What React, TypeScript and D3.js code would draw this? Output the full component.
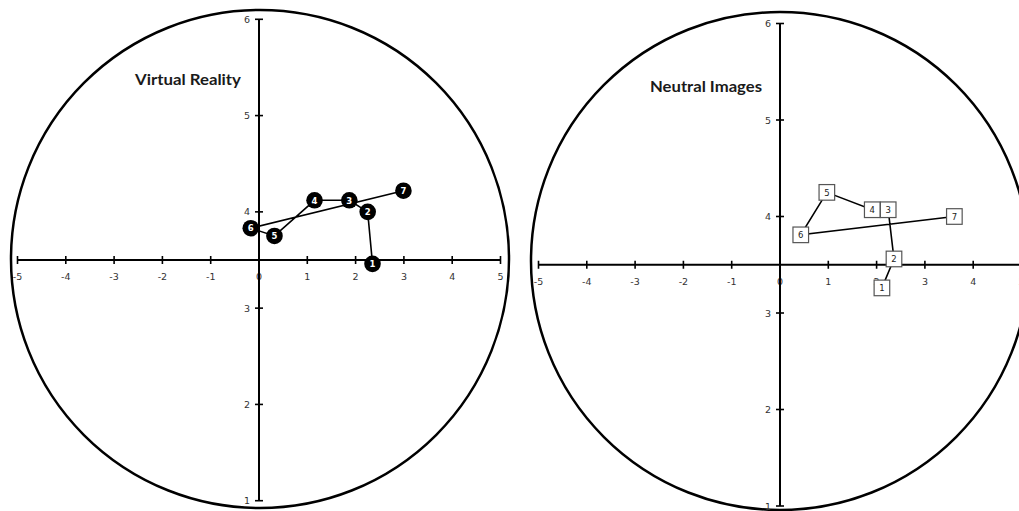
import React from "react";
import * as d3 from "d3";

const pointLabels = ["1", "2", "3", "4", "5", "6", "7"];
const vrX = [2.35, 2.25, 1.87, 1.15, 0.32, -0.17, 2.99];
const vrY = [3.46, 4.0, 4.12, 4.12, 3.75, 3.83, 4.22];
const niX = [2.11, 2.36, 2.24, 1.91, 0.97, 0.43, 3.61];
const niY = [3.26, 3.56, 4.07, 4.07, 4.25, 3.81, 4.0];
const xTicks = [-5, -4, -3, -2, -1, 0, 1, 2, 3, 4, 5];
const yTicks = [1, 2, 3, 4, 5, 6];
const titles = ["Virtual Reality", "Neutral Images"];

type PanelProps = {
  xs: number[];
  ys: number[];
  title: string;
  titleWidth: number;
  xRange: [number, number];
  yRange: [number, number];
  circle: [number, number, number];
  titlePos: [number, number];
  marker: "circle" | "square";
};

const tickFont = "'DejaVu Sans', Verdana, sans-serif";

function Panel({ xs, ys, title, titleWidth, xRange, yRange, circle, titlePos, marker }: PanelProps) {
  const x = d3.scaleLinear().domain([-5, 5]).range(xRange);
  const y = d3.scaleLinear().domain([1, 6]).range(yRange);
  const axisY = y(3.5);
  const axisX = x(0);
  const pts = xs.map((v, i) => [x(v), y(ys[i])] as [number, number]);
  const line = d3.line()(pts) || "";
  return (
    <g>
      <circle cx={circle[0]} cy={circle[1]} r={circle[2]} fill="none" stroke="#000" strokeWidth={2.5} />
      <text
        x={titlePos[0]}
        y={titlePos[1]}
        fontFamily="Lato, 'Open Sans', sans-serif"
        fontWeight="bold"
        fontSize={15.5}
        fill="#1a1a1a"
        textLength={titleWidth}
        lengthAdjust="spacingAndGlyphs"
      >
        {title}
      </text>
      {/* x axis */}
      <line x1={x(-5)} x2={x(5)} y1={axisY} y2={axisY} stroke="#000" strokeWidth={2} />
      {xTicks.map((t) => (
        <g key={"xt" + t}>
          <line x1={x(t)} x2={x(t)} y1={axisY - 4} y2={axisY + 4} stroke="#000" strokeWidth={1.6} />
          <text x={x(t)} y={axisY + 20} textAnchor="middle" fontFamily={tickFont} fontSize={9.5} fill="#333">
            {t}
          </text>
        </g>
      ))}
      {/* y axis */}
      <line x1={axisX} x2={axisX} y1={y(6)} y2={y(1)} stroke="#000" strokeWidth={2} />
      {yTicks.map((t) => (
        <g key={"yt" + t}>
          <line x1={axisX - 4} x2={axisX + 4} y1={y(t)} y2={y(t)} stroke="#000" strokeWidth={1.6} />
          <text x={axisX - 9} y={y(t) + 3.5} textAnchor="end" fontFamily={tickFont} fontSize={9.5} fill="#333">
            {t}
          </text>
        </g>
      ))}
      <path d={line} fill="none" stroke="#000" strokeWidth={1.6} />
      {pts.map((p, i) =>
        marker === "circle" ? (
          <g key={"p" + i}>
            <circle cx={p[0]} cy={p[1]} r={8.3} fill="#000" />
            <text x={p[0]} y={p[1] + 3.2} textAnchor="middle" fontFamily={tickFont} fontWeight="bold" fontSize={8.5} fill="#fff">
              {pointLabels[i]}
            </text>
          </g>
        ) : (
          <g key={"p" + i}>
            <rect x={p[0] - 7.8} y={p[1] - 7.8} width={15.6} height={15.6} fill="#fff" stroke="#555" strokeWidth={1.2} />
            <text x={p[0]} y={p[1] + 3.2} textAnchor="middle" fontFamily={tickFont} fontSize={8.5} fill="#222">
              {pointLabels[i]}
            </text>
          </g>
        )
      )}
    </g>
  );
}

export default function App() {
  return (
    <svg
      width={1019}
      height={511}
      style={{ position: "absolute", left: 0, top: 0, background: "#fff" }}
    >
      <Panel
        xs={vrX}
        ys={vrY}
        title={titles[0]}
        titleWidth={106}
        xRange={[17.5, 500.5]}
        yRange={[500.7, 19.3]}
        circle={[260, 259, 249]}
        titlePos={[135, 85]}
        marker="circle"
      />
      <Panel
        xs={niX}
        ys={niY}
        title={titles[1]}
        titleWidth={112}
        xRange={[538.5, 1021.5]}
        yRange={[506, 23.5]}
        circle={[780, 261, 249]}
        titlePos={[650, 92]}
        marker="square"
      />
    </svg>
  );
}
